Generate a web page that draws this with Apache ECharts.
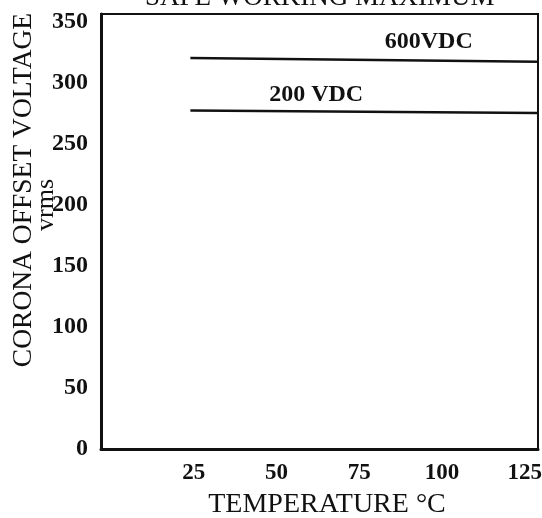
<!DOCTYPE html>
<html>
<head>
<meta charset="utf-8">
<script src="https://cdn.jsdelivr.net/npm/echarts@6/dist/echarts.min.js"></script>
<style>
  html, body { margin: 0; padding: 0; background: #fff; }
  #main { width: 542px; height: 518px; }
</style>
</head>
<body>
<div id="main"></div>
<script>
// values
var xTicks = [25, 50, 75, 100, 125];
var yTicks = [0, 50, 100, 150, 200, 250, 300, 350];
var seriesNames = ['600VDC', '200 VDC'];
var v600 = [[24, 320], [129, 317]];
var v200 = [[24, 277], [129, 275]];
var labelAt = { '600VDC': [96, 333], '200 VDC': [62, 290] };

var serif = '"Liberation Serif", "DejaVu Serif", serif';
var ink = '#111';

function lineSeries(name, data) {
    return {
        name: name,
        type: 'line',
        data: data,
        symbol: 'none',
        lineStyle: { color: ink, width: 2.5 },
        silent: true,
        markPoint: {
            symbol: 'circle',
            symbolSize: 0,
            data: [{ coord: labelAt[name], name: name }],
            label: {
                show: true,
                position: 'inside',
                formatter: '{b}',
                color: ink,
                fontFamily: serif,
                fontWeight: 'bold',
                fontSize: 24
            }
        }
    };
}

var chart = echarts.init(document.getElementById('main'));
chart.setOption({
    animation: false,
    backgroundColor: '#fff',
    title: {
        text: 'SAFE WORKING MAXIMUM',
        left: 140,
        top: -21,
        textStyle: { fontFamily: serif, fontWeight: 'normal', fontSize: 27, color: ink }
    },
    grid: {
        left: 101, right: 4, top: 14, bottom: 69,
        outerBoundsMode: 'none',
        containLabel: false,
        show: true, borderColor: ink, borderWidth: 2
    },
    xAxis: {
        type: 'value',
        min: -3,
        max: 129,
        name: 'TEMPERATURE °C',
        nameLocation: 'middle',
        nameGap: 42,
        nameTextStyle: { fontFamily: serif, fontSize: 28, color: ink, padding: [0, 0, 0, 15] },
        axisLine: { show: true, onZero: false, lineStyle: { color: ink, width: 3 } },
        axisTick: { show: false },
        splitLine: { show: false },
        axisLabel: {
            customValues: xTicks,
            margin: 13,
            fontFamily: serif, fontWeight: 'bold', fontSize: 23, color: ink
        }
    },
    yAxis: {
        type: 'value',
        min: 0,
        max: 356,
        axisLine: { show: true, onZero: false, lineStyle: { color: ink, width: 3 } },
        axisTick: { show: false },
        splitLine: { show: false },
        axisLabel: {
            customValues: yTicks,
            margin: 13,
            fontFamily: serif, fontWeight: 'bold', fontSize: 24, color: ink
        }
    },
    graphic: [
        {
            type: 'text', x: 24, y: 190, rotation: Math.PI / 2,
            style: { text: 'CORONA OFFSET VOLTAGE', font: '27.5px ' + serif, fill: ink, align: 'center', verticalAlign: 'middle' }
        },
        {
            type: 'text', x: 46, y: 205, rotation: Math.PI / 2,
            style: { text: 'vrms', font: '26px ' + serif, fill: ink, align: 'center', verticalAlign: 'middle' }
        }
    ],
    series: [
        lineSeries(seriesNames[0], v600),
        lineSeries(seriesNames[1], v200)
    ]
});
</script>
</body>
</html>
